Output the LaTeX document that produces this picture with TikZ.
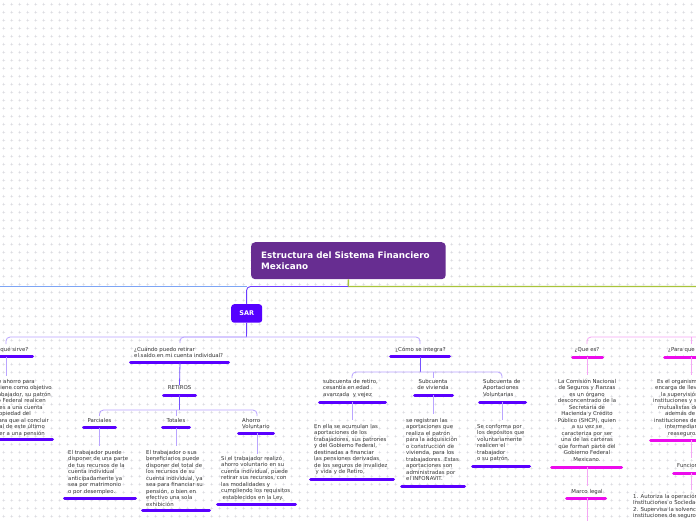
\documentclass[tikz,border=0pt]{standalone}
\usepackage{fontspec}
\setmainfont{DejaVu Sans}
\usetikzlibrary{patterns}
\definecolor{titlebg}{HTML}{672D91}
\definecolor{sarbg}{HTML}{5500FF}
\definecolor{uline}{HTML}{5A00FF}
\definecolor{stemc}{HTML}{7552FF}
\definecolor{branchc}{HTML}{B9A4FF}
\definecolor{mag}{HTML}{EC0CEC}
\definecolor{magl}{HTML}{F4A6F4}
\definecolor{topblue}{HTML}{7DA5F5}
\definecolor{topgreen}{HTML}{A8C43C}
\definecolor{sarline}{HTML}{6A3CFF}
\definecolor{txtc}{HTML}{363636}
\definecolor{gridc}{HTML}{DADAE0}
\pgfdeclarepatternformonly{plusgrid}{\pgfpointorigin}{\pgfpoint{7.7pt}{7.7pt}}{\pgfpoint{7.7pt}{7.7pt}}{%
  \pgfsetlinewidth{0.45pt}%
  \pgfpathmoveto{\pgfpoint{2.5pt}{3.85pt}}\pgfpathlineto{\pgfpoint{5.2pt}{3.85pt}}%
  \pgfpathmoveto{\pgfpoint{3.85pt}{2.5pt}}\pgfpathlineto{\pgfpoint{3.85pt}{5.2pt}}%
  \pgfusepath{stroke}}
\tikzset{
  txt/.style={font=\fontsize{5.4}{6.5}\selectfont, text=txtc, inner sep=0pt},
  ul/.style={line width=3pt, uline, line cap=round},
  mul/.style={line width=3pt, mag, line cap=round},
  stem/.style={stemc, line width=0.8pt},
  det/.style={branchc, line width=0.8pt},
  br/.style={branchc, line width=0.8pt, rounded corners=4pt},
  mbr/.style={magl, line width=0.8pt, rounded corners=4pt},
  mdet/.style={magl, line width=0.8pt},
  titlebox/.style={fill=titlebg, rounded corners=4pt, inner sep=0pt},
  titletext/.style={font=\fontsize{8.8}{11}\selectfont\bfseries, text=white, inner sep=0pt},
  sarbox/.style={fill=sarbg, rounded corners=3pt, inner sep=0pt, text=white,
     font=\fontsize{6.5}{7}\selectfont\bfseries},
}
\newcommand\tblock[5]{%
  \foreach \myl [count=\k] in {#5}{%
    \node[txt, anchor=#2] (#1-\k) at (#3,{#4+(\k-1)*6.5}) {\myl};}}
\begin{document}
\begin{tikzpicture}[x=1pt, y=-1pt]
\useasboundingbox (0,0) rectangle (696,520);
\clip (0,0) rectangle (696,520);
\fill[white] (0,0) rectangle (696,520);
\fill[pattern=plusgrid, pattern color=gridc] (0,0) rectangle (696,520);

% ---- title and top lines
\node[titlebox, anchor=north west, minimum width=194.5pt, minimum height=37pt] (title) at (251,242) {};
\node[titletext, anchor=base west] (titleA) at (261,258.5) {Estructura del Sistema Financiero};
\node[titletext, anchor=base west] (titleB) at (261,269.5) {Mexicano};
\coordinate (jn) at (348.25,286.5);
\coordinate (leftend) at (-5,286.5);
\coordinate (rightend) at (705,286.5);
\coordinate (sarj) at (246.5,286.5);
\draw[topgreen, line width=1.4pt] (title.south) -- (jn) -- (rightend);
\draw[topblue, line width=1.4pt] (leftend) -- (sarj);
\node[sarbox, anchor=north west, minimum width=31pt, minimum height=18.5pt] (sar) at (231,304) {SAR};
\draw[sarline, line width=0.9pt, rounded corners=4pt] (jn) -- (sarj) -- (sar.north);

% ---- SAR level 1
\coordinate (sarbr) at (246.5,337);
\draw[sarline, line width=0.9pt] (sar.south) -- (sarbr);
\coordinate (qsTop) at (6,344);
\coordinate (cuTop) at (180,343);
\coordinate (coTop) at (420,344);
\draw[br] (sarbr) -| (qsTop);
\draw[br] (sarbr) -| (cuTop);
\draw[br] (sarbr) -| (coTop);

% ¿Para qué sirve? (left, cut)
\node[txt, anchor=base east] (qs) at (28.5,351) {¿Para qué sirve?};
\coordinate (qsUa) at (-28,356.5); \coordinate (qsUb) at (32.5,356.5);
\draw[ul] (qsUa) -- (qsUb);
\coordinate (qsU) at (6,356.5); \coordinate (qsT) at (6,376);
\draw[det] (qsU) -- (qsT);
\foreach \rx/\myl [count=\k] in {35/{sistema de ahorro para},52/{tiene como objetivo},51/{trabajador, su patrón},46/{Gobierno Federal realicen},43/{aportaciones a una cuenta},31/{individual propiedad del},49/{trabajador, para que al concluir},45/{su vida laboral de este último},45/{pueda acceder a una pensión}}{%
  \node[txt, anchor=base east] (qsb-\k) at (\rx,{383+(\k-1)*6.5}) {\myl};}
\coordinate (qsBa) at (-20,439.5); \coordinate (qsBb) at (52.5,439.5);
\draw[ul] (qsBa) -- (qsBb);

% ¿Cuándo puedo retirar?
\node[txt, anchor=base west] (cu1) at (134,351) {¿Cuándo puedo retirar};
\node[txt, anchor=base west] (cu2) at (134,357.5) {el saldo en mi cuenta individual?};
\coordinate (cuUa) at (130.5,362.5); \coordinate (cuUb) at (228.5,362.5);
\draw[ul] (cuUa) -- (cuUb);
\node[txt, anchor=base] (ret) at (179.5,389.5) {RETIROS};
\draw[stem] (180,362.5) -- (ret.north);
\coordinate (retUa) at (163.5,395); \coordinate (retUb) at (195.5,395);
\draw[ul] (retUa) -- (retUb);
\coordinate (retBr) at (179.5,410);
\draw[stem] (179.5,395) -- (retBr);
\coordinate (paTop) at (99.5,416);
\coordinate (toTop) at (176,416);
\coordinate (avTop) at (257,416);
\draw[br] (paTop) -- (99.5,410) -- (257,410) -- (avTop);
\draw[det] (176,410) -- (toTop);

% Parciales
\node[txt, anchor=base] (pa) at (99.5,422) {Parciales};
\draw[ul] (83.5,427.5) -- (115.5,427.5);
\draw[det] (99.5,427.5) -- (99.5,446);
\tblock{pab}{base west}{68}{454}{{El trabajador puede},{disponer de una parte},{de tus recursos de la},{cuenta individual},{anticipadamente ya},{sea por matrimonio},{o por desempleo.}}
\draw[ul] (64.5,498) -- (135.5,498);

% Totales
\node[txt, anchor=base] (to) at (176,422) {Totales};
\draw[ul] (162.5,427.5) -- (189.5,427.5);
\draw[det] (176,427.5) -- (176,446);
\tblock{tob}{base west}{146}{454}{{El trabajador o sus},{beneficiarios puede},{disponer del total de},{los recursos de su},{cuenta individual, ya},{sea para financiar su},{pensión, o bien en},{efectivo una sola},{exhibición}}
\draw[ul] (142.5,510) -- (209.5,510);

% Ahorro Voluntario
\node[txt, anchor=base west] (av1) at (242,422) {Ahorro};
\node[txt, anchor=base west] (av2) at (242,428.5) {Voluntario};
\draw[ul] (238.5,433) -- (273.5,433);
\draw[det] (257,433) -- (257,454);
\tblock{avb}{base west}{221}{460}{{Si el trabajador realizó},{ahorro voluntario en su},{cuenta individual, puede},{retirar sus recursos, con},{las modalidades y},{cumpliendo los requisitos},{\hspace{1.5pt}establecidos en la Ley.}}
\draw[ul] (217.5,504) -- (295.5,504);

% ¿Cómo se integra?
\node[txt, anchor=base] (co) at (420.5,351) {¿Cómo se integra?};
\draw[ul] (390.5,356.5) -- (449.5,356.5);
\coordinate (coBr) at (420,372);
\draw[stem] (420,356.5) -- (coBr);
\coordinate (rtTop) at (352,378);
\coordinate (viTop) at (433,378);
\coordinate (vaTop) at (502,378);
\draw[br] (rtTop) -- (352,372) -- (502,372) -- (vaTop);
\draw[det] (433,372) -- (viTop);

% subcuenta de retiro
\tblock{rt}{base west}{323}{383}{{subcuenta de retiro,},{cesantía en edad},{avanzada\ \ y vejez}}
\draw[ul] (319.5,402) -- (385.5,402);
\draw[det] (352,402) -- (352,420);
\tblock{rtb}{base west}{314}{428}{{En ella se acumulan las},{aportaciones de los},{trabajadores, sus patrones},{y del Gobierno Federal,},{destinadas a financiar},{las pensiones derivadas},{de los seguros de invalidez},{\hspace{1.5pt}y vida y de Retiro,}}
\draw[ul] (310.5,479) -- (393.5,479);

% Subcuenta de vivienda
\tblock{vi}{base}{433}{383}{{Subcuenta},{de vivienda}}
\draw[ul] (414.5,395) -- (452.5,395);
\draw[det] (433,395) -- (433,414);
\tblock{vib}{base west}{406}{422}{{se registran las},{aportaciones que},{realiza el patrón},{para la adquisición},{o construcción de},{vivienda, para los},{trabajadores. Estas},{aportaciones son},{administradas por},{el INFONAVIT.}}
\draw[ul] (401.5,486) -- (464.5,486);

% Subcuenta de Aportaciones Voluntarias
\tblock{va}{base west}{483}{383}{{Subcuenta de},{Aportaciones},{Voluntarias}}
\draw[ul] (479.5,402) -- (525.5,402);
\draw[det] (502,402) -- (502,420);
\tblock{vab}{base west}{477}{428}{{Se conforma por},{los depósitos que},{voluntariamente},{realicen el},{trabajador},{o su patrón.}}
\draw[ul] (472.5,466) -- (529.5,466);

% ---- magenta branch
\coordinate (qeTop) at (587,344);
\coordinate (pqTop) at (691,344);
\coordinate (mright) at (705,337);
\draw[mbr] (qeTop) -- (587,337) -- (mright);
\draw[mdet] (691,337) -- (pqTop);

\node[txt, anchor=base] (qe) at (587,351) {¿Que es?};
\draw[mul] (572.5,357) -- (602.5,357);
\draw[mdet] (587,357) -- (587,375);
\tblock{qeb}{base}{587}{383}{{La Comisión Nacional},{de Seguros y Fianzas},{es un órgano},{desconcentrado de la},{Secretaría de},{Hacienda y Crédito},{Público (SHCP), quien},{a su vez se},{caracteriza por ser},{una de las carteras},{que forman parte del},{Gobierno Federal},{Mexicano.}}
\draw[mul] (551.5,467) -- (621.5,467);
\draw[mdet] (587,467) -- (587,486);
\node[txt, anchor=base] (ml) at (587,493) {Marco legal};
\draw[mul] (566.5,498) -- (605.5,498);
\draw[mdet] (587,498) -- (587,525);

\node[txt, anchor=base west] (pq) at (668,351) {¿Para que sirve?};
\draw[mul] (664.5,357) -- (720,357);
\draw[mdet] (691,357) -- (691,375);
\foreach \lx/\myl [count=\k] in {657/{Es el organismo que se},655/{encarga de llevar a cabo},661/{la supervisión de las},653/{instituciones y sociedades},658/{mutualistas de seguros,},665/{además de las},654/{instituciones de},665/{intermediarios de},668/{reaseguro.}}{%
  \node[txt, anchor=base west] (pqb-\k) at (\lx,{383+(\k-1)*6.5}) {\myl};}
\draw[mul] (650.5,440) -- (720,440);
\draw[mdet] (691,440) -- (691,458);
\node[txt, anchor=base west] (fu) at (677,467) {Funciones};
\draw[mul] (673.5,473) -- (720,473);
\draw[mdet] (691,473) -- (691,490);
\tblock{fub}{base west}{633}{498}{{1. Autoriza la operación de las},{Instituciones o Sociedades},{2. Supervisa la solvencia de las},{instituciones de seguros}}
\end{tikzpicture}
\end{document}
